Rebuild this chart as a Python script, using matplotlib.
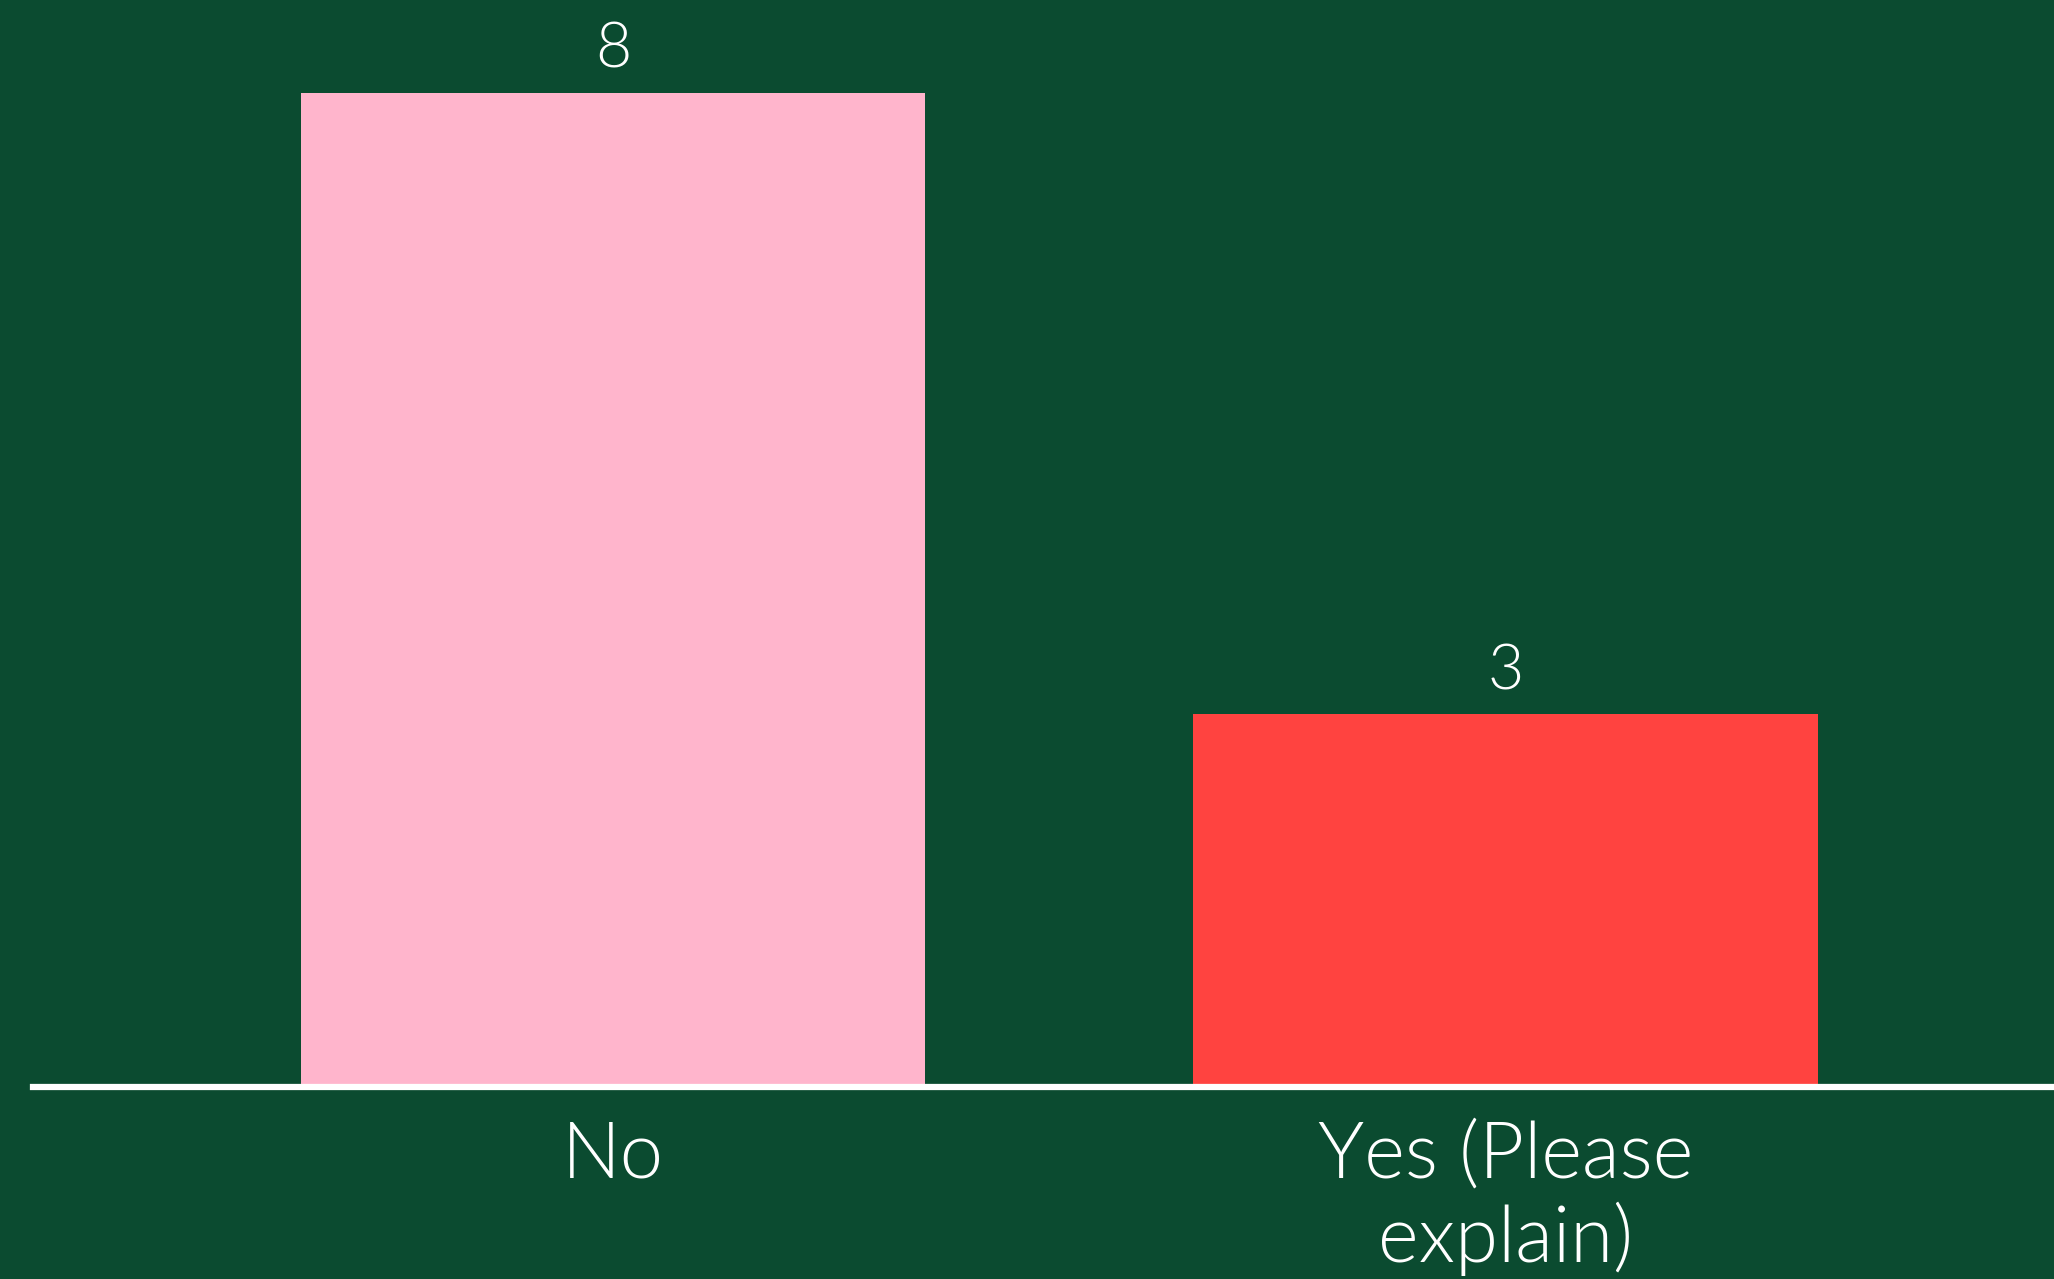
import matplotlib
matplotlib.use("Agg")
import matplotlib.pyplot as plt

categories = ["No", "Yes (Please\nexplain)"]
values = [8, 3]
colors = ["#FFB5CC", "#FF4340"]

BG = "#0B4B30"
plt.rcParams['font.family'] = ['Lato', 'DejaVu Sans']

fig = plt.figure(figsize=(20.54, 12.79), dpi=100, facecolor=BG)
ax = fig.add_axes([33/2054, 0.15, 1 - 33/2054, 0.85])
ax.set_facecolor(BG)

x = list(range(len(categories)))
bars = ax.bar(x, values, width=0.7, color=colors, zorder=2)

for xi, v in zip(x, values):
    ax.text(xi, v + 0.2, str(v), ha='center', va='baseline',
            color='white', fontsize=45, fontweight=300)

ax.set_xlim(-0.650, 1.615)
ax.set_ylim(0, 8.745)
ax.set_xticks(x)
ax.set_xticklabels(categories, fontsize=56, color='white', linespacing=1.16,
                   fontweight=300)
ax.tick_params(axis='x', length=0, pad=24)
ax.set_yticks([])
for s in ['top', 'right', 'left']:
    ax.spines[s].set_visible(False)
ax.spines['bottom'].set_color('white')
ax.spines['bottom'].set_linewidth(4.5)
ax.spines['bottom'].set_zorder(3)

fig.savefig("out.png", dpi=100, facecolor=BG)
